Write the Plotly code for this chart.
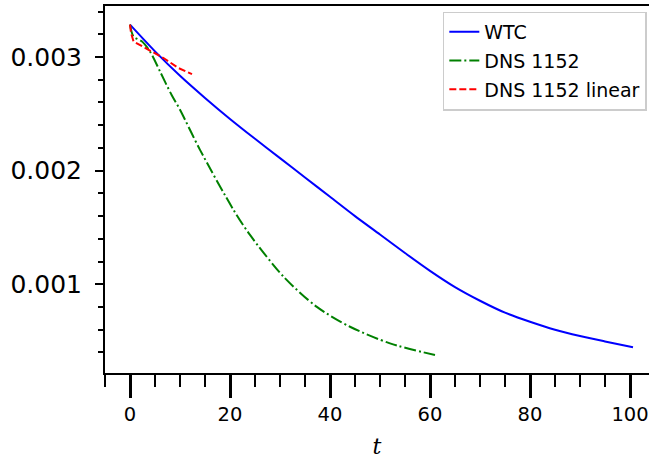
import plotly.graph_objects as go

# WTC curve
t_wtc = [0, 5, 10, 15, 20, 25, 30, 35, 40, 45, 50, 55, 60, 65, 70, 75, 80, 85, 90, 95, 100.6]
e_wtc = [0.003285, 0.003050, 0.002835, 0.002640, 0.002455, 0.002280, 0.002110, 0.001940, 0.001770, 0.001600,
         0.001438, 0.001275, 0.001118, 0.000975, 0.000855, 0.000750, 0.000670, 0.000600, 0.000545, 0.000497,
         0.000445]

# DNS 1152
t_dns = [0, 0.7, 2.3, 4, 6, 8.3, 10, 14, 20.7, 24, 30.7, 37.3, 44, 52, 61]
e_dns = [0.003285, 0.003181, 0.003140, 0.003049, 0.002873, 0.002668, 0.002536, 0.002183, 0.001655, 0.001434,
         0.001067, 0.000803, 0.000626, 0.000480, 0.000377]

# DNS 1152 linear
t_lin = [0, 0.2, 0.7, 3, 6.7, 9.7, 12.4]
e_lin = [0.003285, 0.003214, 0.003137, 0.003079, 0.002991, 0.002903, 0.002850]

fig = go.Figure()
fig.add_trace(go.Scatter(x=t_wtc, y=e_wtc, mode="lines", name="WTC", legendgroup="a",
                         line=dict(color="#0000ff", width=2, shape="spline", smoothing=0.8)))
fig.add_trace(go.Scatter(x=t_dns, y=e_dns, mode="lines", name="DNS 1152", legendgroup="b",
                         line=dict(color="#008000", width=2, dash="12px,3px,2px,3px", shape="spline", smoothing=0.8)))
fig.add_trace(go.Scatter(x=t_lin, y=e_lin, mode="lines", name="DNS 1152 linear", legendgroup="c",
                         line=dict(color="#ff0000", width=2, dash="7px,3px")))

fig.update_layout(
    width=649, height=459,
    margin=dict(l=105, r=0, t=6, b=86),
    plot_bgcolor="white", paper_bgcolor="white",
    font=dict(family="DejaVu Sans", color="black"),
    legend=dict(x=0.996, y=0.985, xanchor="right", yanchor="top",
                bgcolor="white", bordercolor="#cccccc", borderwidth=1.5,
                font=dict(size=19), tracegroupgap=1),
)
fig.update_xaxes(
    range=[-5, 103.8], showgrid=False, zeroline=False,
    showline=True, linecolor="black", linewidth=2, mirror=True,
    tickmode="array", tickvals=[0, 20, 40, 60, 80, 100],
    ticks="outside", ticklen=23, tickwidth=3, tickcolor="black",
    tickfont=dict(size=19.5),
    minor=dict(dtick=5, tick0=0, ticks="outside", ticklen=12, tickwidth=1.5, tickcolor="black"),
    title=dict(text="<i>t</i>", font=dict(family="DejaVu Serif", size=22), standoff=14),
)
fig.update_yaxes(
    range=[0.000219, 0.003449], showgrid=False, zeroline=False,
    showline=True, linecolor="black", linewidth=2,
    tickmode="array", tickvals=[0.001, 0.002, 0.003], ticktext=["0.001", "0.002", "0.003"],
    ticks="outside", ticklen=8, tickwidth=1.5, tickcolor="black",
    tickfont=dict(size=25), ticklabelstandoff=8,
    minor=dict(dtick=0.0002, tick0=0, ticks="outside", ticklen=5, tickwidth=1.5, tickcolor="black"),
)

fig.write_html("out.html", config={"displayModeBar": False},
               post_script="document.body.style.margin='0';")
